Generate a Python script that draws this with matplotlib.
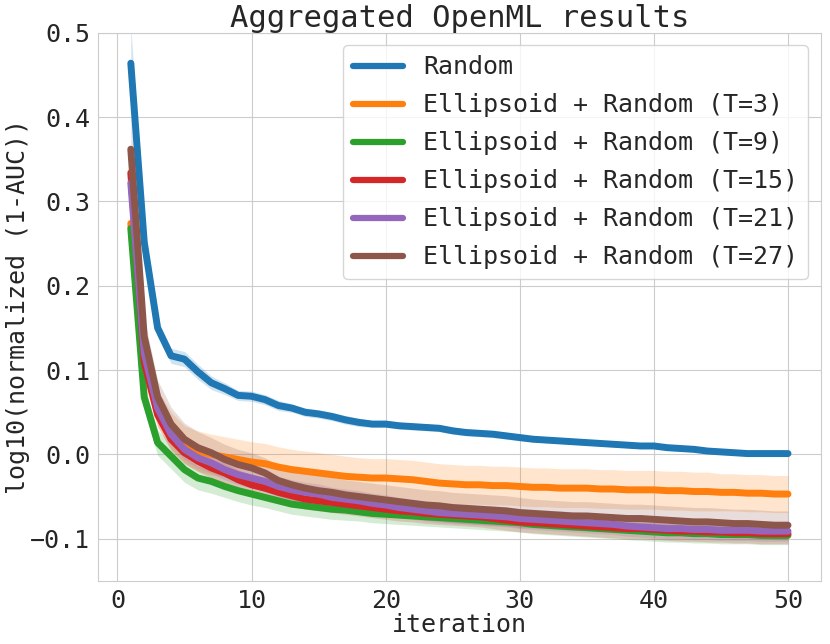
import numpy as np
import matplotlib
matplotlib.use('Agg')
import matplotlib.pyplot as plt
import seaborn as sns

sns.set_style('whitegrid')
plt.rcParams['font.family'] = ['DejaVu Sans Mono']

iterations = np.arange(1, 51)

labels = ['Random', 'Ellipsoid + Random (T=3)', 'Ellipsoid + Random (T=9)',
          'Ellipsoid + Random (T=15)', 'Ellipsoid + Random (T=21)',
          'Ellipsoid + Random (T=27)']

random_mean = [0.464, 0.252, 0.150, 0.117, 0.113, 0.098, 0.085, 0.078, 0.070, 0.069,
               0.065, 0.058, 0.055, 0.050, 0.048, 0.045, 0.041, 0.038, 0.036, 0.036,
               0.034, 0.033, 0.032, 0.031, 0.028, 0.026, 0.025, 0.024, 0.022, 0.020,
               0.018, 0.017, 0.016, 0.015, 0.014, 0.013, 0.012, 0.011, 0.010, 0.010,
               0.008, 0.007, 0.006, 0.004, 0.003, 0.002, 0.001, 0.001, 0.001, 0.001]
t3_mean = [0.274, 0.105, 0.055, 0.028, 0.012, 0.004, 0.000, -0.003, -0.006, -0.009,
           -0.011, -0.015, -0.018, -0.020, -0.022, -0.024, -0.026, -0.027, -0.028, -0.028,
           -0.029, -0.030, -0.032, -0.034, -0.035, -0.036, -0.036, -0.037, -0.037, -0.038,
           -0.039, -0.039, -0.040, -0.040, -0.040, -0.041, -0.041, -0.042, -0.042, -0.042,
           -0.043, -0.043, -0.044, -0.044, -0.045, -0.045, -0.046, -0.046, -0.047, -0.047]
t9_mean = [0.268, 0.068, 0.014, -0.002, -0.018, -0.028, -0.032, -0.038, -0.043, -0.047,
           -0.051, -0.055, -0.059, -0.061, -0.063, -0.065, -0.066, -0.068, -0.070, -0.071,
           -0.072, -0.073, -0.074, -0.075, -0.076, -0.077, -0.078, -0.079, -0.080, -0.081,
           -0.083, -0.084, -0.085, -0.086, -0.087, -0.088, -0.089, -0.090, -0.091, -0.092,
           -0.093, -0.093, -0.094, -0.094, -0.095, -0.095, -0.095, -0.096, -0.096, -0.096]
t15_mean = [0.334, 0.110, 0.047, 0.018, 0.002, -0.008, -0.016, -0.022, -0.030, -0.036,
            -0.040, -0.045, -0.049, -0.053, -0.055, -0.057, -0.059, -0.061, -0.063, -0.065,
            -0.067, -0.068, -0.070, -0.071, -0.072, -0.073, -0.074, -0.076, -0.078, -0.080,
            -0.081, -0.082, -0.083, -0.084, -0.085, -0.086, -0.087, -0.088, -0.088, -0.089,
            -0.090, -0.091, -0.091, -0.092, -0.092, -0.093, -0.093, -0.094, -0.094, -0.094]
t21_mean = [0.322, 0.120, 0.055, 0.024, 0.006, -0.004, -0.010, -0.018, -0.024, -0.028,
            -0.032, -0.038, -0.042, -0.045, -0.047, -0.051, -0.053, -0.055, -0.058, -0.060,
            -0.063, -0.065, -0.067, -0.069, -0.070, -0.071, -0.072, -0.073, -0.074, -0.076,
            -0.077, -0.078, -0.079, -0.080, -0.081, -0.082, -0.083, -0.085, -0.086, -0.087,
            -0.088, -0.088, -0.089, -0.089, -0.090, -0.090, -0.090, -0.091, -0.091, -0.091]
t27_mean = [0.362, 0.140, 0.068, 0.036, 0.018, 0.008, 0.002, -0.006, -0.012, -0.016,
            -0.022, -0.031, -0.036, -0.040, -0.043, -0.045, -0.048, -0.050, -0.052, -0.054,
            -0.056, -0.058, -0.060, -0.061, -0.063, -0.064, -0.065, -0.066, -0.067, -0.069,
            -0.070, -0.071, -0.072, -0.073, -0.073, -0.074, -0.075, -0.076, -0.076, -0.077,
            -0.078, -0.079, -0.080, -0.080, -0.081, -0.082, -0.082, -0.083, -0.084, -0.084]

# half width of the shaded band around each mean
random_band = [0.045, 0.012, 0.010, 0.009, 0.009, 0.009, 0.008, 0.007, 0.006, 0.006,
               0.006, 0.006, 0.005, 0.005, 0.005, 0.005, 0.005, 0.005, 0.004, 0.004,
               0.004, 0.004, 0.004, 0.004, 0.004, 0.004, 0.004, 0.004, 0.004, 0.004,
               0.003, 0.003, 0.003, 0.003, 0.003, 0.003, 0.003, 0.003, 0.003, 0.003,
               0.003, 0.003, 0.003, 0.003, 0.003, 0.003, 0.003, 0.003, 0.003, 0.003]
t3_band = [0.012, 0.020, 0.022, 0.022, 0.022, 0.024, 0.024, 0.024, 0.024, 0.024,
           0.024, 0.024, 0.024, 0.024, 0.024, 0.024, 0.024, 0.023, 0.023, 0.023,
           0.023, 0.023, 0.023, 0.023, 0.023, 0.023, 0.023, 0.023, 0.023, 0.023,
           0.023, 0.023, 0.023, 0.023, 0.023, 0.023, 0.023, 0.023, 0.023, 0.023,
           0.023, 0.023, 0.023, 0.023, 0.022, 0.022, 0.022, 0.022, 0.022, 0.022]
t9_band = [0.012, 0.015, 0.015, 0.015, 0.015, 0.014, 0.014, 0.013, 0.013, 0.013,
           0.012, 0.012, 0.012, 0.012, 0.012, 0.012, 0.012, 0.011, 0.011, 0.011,
           0.011, 0.011, 0.011, 0.011, 0.011, 0.011, 0.011, 0.011, 0.011, 0.011,
           0.011, 0.011, 0.011, 0.011, 0.011, 0.011, 0.011, 0.011, 0.011, 0.011,
           0.011, 0.011, 0.011, 0.011, 0.011, 0.011, 0.011, 0.011, 0.011, 0.011]
t15_band = [0.030, 0.018, 0.014, 0.013, 0.013, 0.012, 0.012, 0.012, 0.012, 0.012,
            0.012, 0.012, 0.012, 0.012, 0.012, 0.012, 0.012, 0.012, 0.012, 0.012,
            0.012, 0.012, 0.012, 0.012, 0.012, 0.012, 0.012, 0.012, 0.012, 0.012,
            0.012, 0.012, 0.012, 0.012, 0.012, 0.012, 0.012, 0.012, 0.012, 0.012,
            0.012, 0.012, 0.012, 0.012, 0.012, 0.012, 0.012, 0.012, 0.012, 0.012]
t21_band = [0.025, 0.016, 0.013, 0.012, 0.012, 0.012, 0.012, 0.012, 0.012, 0.012,
            0.012, 0.012, 0.012, 0.012, 0.012, 0.012, 0.012, 0.012, 0.012, 0.012,
            0.012, 0.012, 0.012, 0.012, 0.012, 0.012, 0.012, 0.012, 0.012, 0.012,
            0.012, 0.012, 0.012, 0.012, 0.012, 0.012, 0.012, 0.012, 0.012, 0.012,
            0.012, 0.012, 0.012, 0.012, 0.012, 0.012, 0.012, 0.012, 0.012, 0.012]
t27_band = [0.040, 0.022, 0.020, 0.020, 0.019, 0.019, 0.018, 0.018, 0.018, 0.018,
            0.018, 0.018, 0.018, 0.018, 0.018, 0.018, 0.018, 0.018, 0.018, 0.018,
            0.018, 0.018, 0.018, 0.018, 0.018, 0.018, 0.018, 0.018, 0.018, 0.018,
            0.017, 0.017, 0.017, 0.017, 0.017, 0.017, 0.017, 0.017, 0.017, 0.017,
            0.017, 0.017, 0.017, 0.017, 0.017, 0.017, 0.017, 0.017, 0.017, 0.017]

means = [random_mean, t3_mean, t9_mean, t15_mean, t21_mean, t27_mean]
bands = [random_band, t3_band, t9_band, t15_band, t21_band, t27_band]
colors = ['#1f77b4', '#ff7f0e', '#2ca02c', '#d62728', '#9467bd', '#8c564b']

fig, ax = plt.subplots(figsize=(8.3, 6.44), dpi=100)
fig.subplots_adjust(left=0.118, right=0.989, bottom=0.098, top=0.949)

for label, m, b, c in zip(labels, means, bands, colors):
    m = np.array(m)
    b = np.array(b)
    ax.fill_between(iterations, m - b, m + b, color=c, alpha=0.2, linewidth=0)
    ax.plot(iterations, m, color=c, lw=5, label=label, solid_capstyle='round')

ax.set_ylim(-0.15, 0.5)
ax.set_xticks([0, 10, 20, 30, 40, 50])
ax.set_yticks([-0.1, 0.0, 0.1, 0.2, 0.3, 0.4, 0.5])
ax.tick_params(labelsize=18, pad=2)
ax.set_xlabel('iteration', fontsize=18, labelpad=0)
ax.set_ylabel('log10(normalized (1-AUC))', fontsize=18, labelpad=0)
ax.set_title('Aggregated OpenML results', fontsize=22, pad=4)
leg = ax.legend(loc='upper right', fontsize=18, handlelength=2.0, labelspacing=0.56)
for line in leg.get_lines():
    line.set_linewidth(4.5)

plt.savefig('out.png', dpi=100)
